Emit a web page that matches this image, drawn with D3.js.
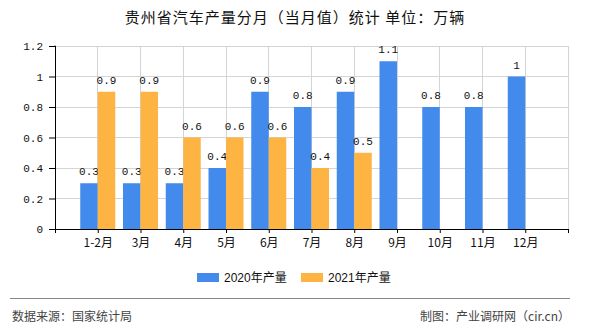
<!DOCTYPE html>
<html><head><meta charset="utf-8">
<script src="https://cdn.jsdelivr.net/npm/d3@7"></script>
<style>
body{margin:0;background:#fff;}
svg{display:block;}
</style></head>
<body>
<svg id="c" width="590" height="330"></svg>
<script>
const categories = ["1-2月","3月","4月","5月","6月","7月","8月","9月","10月","11月","12月"];
const series2020 = [0.3,0.3,0.3,0.4,0.9,0.8,0.9,1.1,0.8,0.8,1];
const series2021 = [0.9,0.9,0.6,0.6,0.6,0.4,0.5,null,null,null,null];
const seriesNames = ["2020年产量","2021年产量"];
const colors = ["#428bec","#fdb443"];
const yTicks = [0,0.2,0.4,0.6,0.8,1,1.2];
const title = "贵州省汽车产量分月（当月值）统计 单位：万辆";
const sourceText = "数据来源：国家统计局";
const makerText = "制图：产业调研网（cir.cn）";

const svg = d3.select("#c");
const L = 55, R = 568, T = 46, B = 229;
const slots = ["__s", ...categories, "__e"];
const x = d3.scalePoint().domain(slots).range([L, R]).padding(0);
const y = d3.scaleLinear().domain([0, 1.2]).range([B, T]);
const bw = 17.5;
const mono = "'Liberation Mono','DejaVu Sans Mono',monospace";
const sans = "'Noto Sans CJK SC','Liberation Sans',sans-serif";

// title
svg.append("text").attr("x", 295).attr("y", 23).attr("text-anchor","middle")
  .attr("font-family", sans).attr("font-size", 15).attr("letter-spacing", 1)
  .attr("fill","#111").text(title);

// horizontal grid
svg.append("g").selectAll("line").data(yTicks.filter(d=>d>0)).join("line")
  .attr("x1", L).attr("x2", R).attr("y1", d=>y(d)).attr("y2", d=>y(d))
  .attr("stroke","#d4d4d4").attr("stroke-width",1).attr("shape-rendering","crispEdges");
// vertical grid
svg.append("g").selectAll("line").data(slots.slice(1)).join("line")
  .attr("x1", d=>x(d)).attr("x2", d=>x(d)).attr("y1", T).attr("y2", B)
  .attr("stroke","#d4d4d4").attr("stroke-width",1).attr("shape-rendering","crispEdges");

// bars
const data = categories.map((c,i)=>({c, v:[series2020[i], series2021[i]]}));
const gb = svg.append("g");
[0,1].forEach(s=>{
  const arr = s===0 ? series2020 : series2021;
  const d = categories.map((c,i)=>({c, v:arr[i]})).filter(d=>d.v!=null);
  gb.selectAll(null).data(d).join("rect")
    .attr("x", d=> s===0 ? x(d.c)-bw : x(d.c))
    .attr("width", bw)
    .attr("y", d=>y(d.v)).attr("height", d=>B - y(d.v))
    .attr("fill", colors[s]);
  gb.selectAll(null).data(d).join("text")
    .attr("x", d=> s===0 ? x(d.c)-bw/2 : x(d.c)+bw/2)
    .attr("y", d=>y(d.v)-8)
    .attr("text-anchor","middle")
    .attr("font-family", mono).attr("font-size", 11).attr("fill","#111")
    .text(d=>d3.format("~g")(d.v));
});

// y axis
const ya = svg.append("g").attr("transform",`translate(${L},0)`)
  .call(d3.axisLeft(y).tickValues(yTicks).tickSize(6).tickPadding(6).tickFormat(d3.format("~g")));
ya.select(".domain").attr("stroke","#000").attr("d", `M-0.5,${T}H0.5V${B}`);
ya.selectAll(".tick line").attr("stroke","#000");
ya.selectAll("text").attr("font-family", mono).attr("font-size", 11).attr("fill","#111");

// x axis
const xa = svg.append("g").attr("transform",`translate(0,${B})`)
  .call(d3.axisBottom(x).tickSize(4).tickPadding(5).tickFormat(d=>d.startsWith("__")?"":d));
xa.select(".domain").attr("stroke","#000").attr("d", `M${L},0.5H${R}`);
xa.selectAll(".tick line").attr("stroke","#000");
xa.selectAll("text").attr("font-family", sans).attr("font-size", 12).attr("fill","#111");

// legend
const lg = svg.append("g");
const lx = [197, 301];
seriesNames.forEach((n,i)=>{
  lg.append("rect").attr("x", lx[i]).attr("y", 273).attr("width", 22).attr("height", 9).attr("fill", colors[i]);
  lg.append("text").attr("x", lx[i]+27).attr("y", 282).attr("font-family","'Liberation Sans','Noto Sans CJK SC',sans-serif")
    .attr("font-size", 12).attr("fill","#111").text(n);
});

// separator and footer
svg.append("line").attr("x1",10).attr("x2",570).attr("y1",298.5).attr("y2",298.5).attr("stroke","#888").attr("stroke-width",1);
svg.append("text").attr("x",12).attr("y",321).attr("font-family",sans).attr("font-size",12).attr("fill","#444").text(sourceText);
svg.append("text").attr("x",570).attr("y",321).attr("text-anchor","end").attr("font-family",sans).attr("font-size",12).attr("fill","#444").text(makerText);
</script>
</body></html>
